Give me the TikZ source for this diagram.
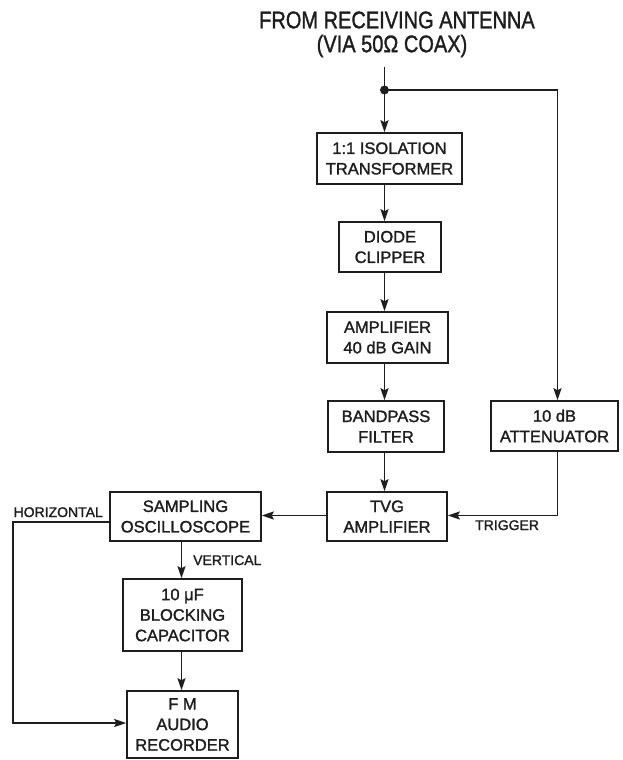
\documentclass[tikz,border=0pt]{standalone}
\usepackage{fontspec}
\setmainfont{Liberation Sans}
\newfontfamily\lettering{Liberation Sans}[FakeBold=1.5]
\usetikzlibrary{arrows.meta}
\definecolor{ink}{RGB}{30,30,30}
\begin{document}
\begin{tikzpicture}[x=1pt,y=-1pt,
  every path/.style={color=ink},
  every node/.style={text=ink},
  blk/.style={draw=ink,line width=1.6pt,align=center,inner sep=0pt,font=\lettering\fontsize{16.5}{20.5}\selectfont},
  arr/.style={line width=1.6pt,-{Stealth[length=12pt,width=8pt,inset=2pt]}},
  ln/.style={line width=1.6pt},
  lbl/.style={font=\lettering\fontsize{14}{16}\selectfont,inner sep=0pt},
  ttl/.style={font=\lettering\fontsize{20}{24}\selectfont,inner sep=0pt}]
\fill[white] (0,0) rectangle (622,760);
\useasboundingbox (0,0) rectangle (622,760);

% title
\node[ttl] (t1) at (397,20) {\scalebox{1}[1.2]{FROM RECEIVING ANTENNA}};
\node[ttl] (t2) at (392,46) {\scalebox{1}[1.2]{(VIA 50Ω COAX)}};

% blocks
\node[blk,minimum width=145pt,minimum height=51pt] (b1) at (389.5,158.5) {1:1 ISOLATION\\TRANSFORMER};
\node[blk,minimum width=102pt,minimum height=50pt] (b2) at (390,247) {DIODE\\CLIPPER};
\node[blk,minimum width=121pt,minimum height=51pt] (b3) at (387.5,337.5) {AMPLIFIER\\40 dB GAIN};
\node[blk,minimum width=116pt,minimum height=51pt] (b4) at (386,426.5) {BANDPASS\\FILTER};
\node[blk,minimum width=127pt,minimum height=50pt] (att) at (554.5,426) {10 dB\\ATTENUATOR};
\node[blk,minimum width=120pt,minimum height=49pt] (tvg) at (387,516.5) {TVG\\AMPLIFIER};
\node[blk,minimum width=151pt,minimum height=49pt] (osc) at (185.5,516.5) {SAMPLING\\OSCILLOSCOPE};
\node[blk,minimum width=119pt,minimum height=72pt] (cap) at (182.5,615) {10 μF\\BLOCKING\\CAPACITOR};
\node[blk,minimum width=111pt,minimum height=67pt] (fm) at (182.5,724.5) {F M\\AUDIO\\RECORDER};

% coordinates
\coordinate (top) at (384.5,67);
\coordinate (dot) at (384.5,90);
\coordinate (corner) at (557.5,90);
\coordinate (trig) at (557.5,515.5);
\coordinate (vx) at (181.5,600);
\coordinate (hl) at (13,522);
\coordinate (hb) at (13,723);

% connectors
\draw[ln] (top) -- (dot);
\draw[arr] (dot) -- (dot |- b1.north);
\draw[arr] (b1.south -| dot) -- (b2.north -| dot);
\draw[arr] (b2.south -| dot) -- (b3.north -| dot);
\draw[arr] (b3.south -| dot) -- (b4.north -| dot);
\draw[arr] (b4.south -| dot) -- (tvg.north -| dot);
\draw[arr] (dot) -- (corner) -- (corner |- att.north);
\draw[arr] (att.south -| trig) -- (trig) -- (trig -| tvg.east);
\draw[arr] (tvg.west |- trig) -- (osc.east |- trig);
\draw[arr] (osc.south -| vx) -- (cap.north -| vx);
\draw[arr] (cap.south -| vx) -- (fm.north -| vx);
\draw[arr] (osc.west |- hl) -- (hl) -- (hb) -- (hb -| fm.west);
\fill (dot) circle (4.5pt);

% labels
\node[lbl,anchor=base east] (hlab) at (103,517) {HORIZONTAL};
\node[lbl,anchor=base west] (vlab) at (193,565) {VERTICAL};
\node[lbl,anchor=base west] (tlab) at (475,530) {TRIGGER};
\end{tikzpicture}
\end{document}
